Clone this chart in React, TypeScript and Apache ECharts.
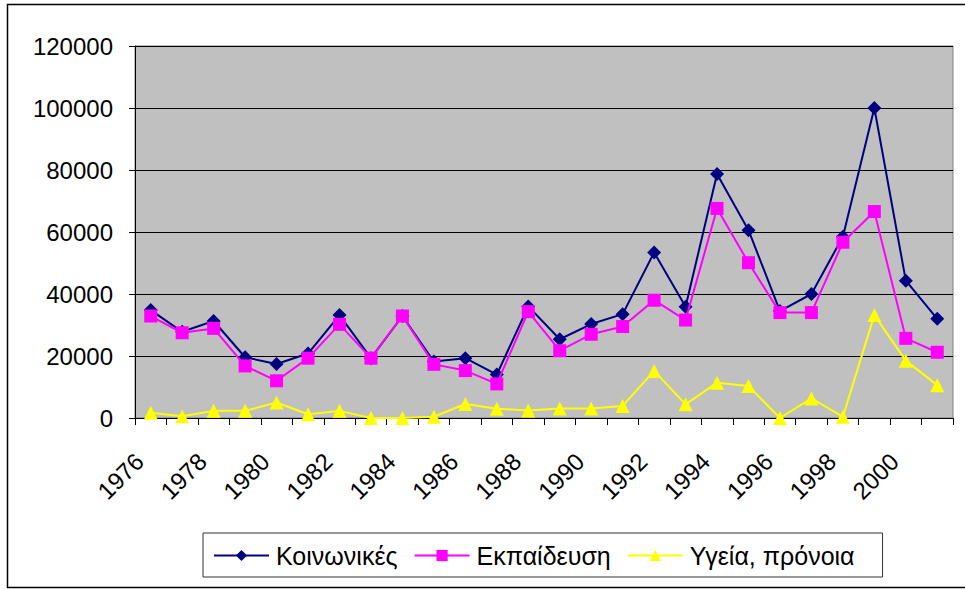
import React, { useEffect, useRef } from "react";
import * as echarts from "echarts";

const years = ["1976","1977","1978","1979","1980","1981","1982","1983","1984","1985","1986","1987","1988","1989","1990","1991","1992","1993","1994","1995","1996","1997","1998","1999","2000","2001"];
const social = [34800,27800,31300,19600,17400,20800,33200,19300,32900,18200,19300,14000,36000,25400,30300,33500,53400,35900,78700,60600,34500,40000,58500,100000,44300,32000];
const education = [32900,27500,28900,16800,12000,19300,30200,19300,32900,17300,15300,11000,34300,21700,27000,29500,38000,31600,67600,50100,34000,34000,56700,66600,25700,21200];
const health = [1700,600,2300,2300,5000,1200,2300,0,0,400,4500,3000,2400,3100,3100,3900,15200,4400,11400,10300,0,6300,400,33200,18500,10600];
const seriesNames = ["Κοινωνικές", "Εκπαίδευση", "Υγεία, πρόνοια"];

const FONT = "'Liberation Sans', Arial, sans-serif";

export default function App() {
  const ref = useRef<HTMLDivElement>(null);
  useEffect(() => {
    const chart = echarts.init(ref.current!, null, { renderer: "svg" });
    chart.setOption({
      animation: false,
      backgroundColor: "#ffffff",
      textStyle: { fontFamily: FONT },
      grid: {
        left: 135, top: 46, right: 12, bottom: 171,
        show: true, backgroundColor: "#c0c0c0", borderColor: "#808080", borderWidth: 1,
      },
      xAxis: {
        type: "category",
        data: years,
        boundaryGap: true,
        axisLine: { lineStyle: { color: "#000", width: 1 } },
        axisTick: { show: true, interval: 0, length: 7, lineStyle: { color: "#000" } },
        axisLabel: {
          interval: 1, rotate: 45, fontSize: 24, color: "#000", fontFamily: FONT,
          margin: 28, padding: [0, 16, 0, 0],
        },
        splitLine: { show: false },
      },
      yAxis: {
        type: "value",
        min: 0, max: 120000, interval: 20000,
        axisLine: { show: true, lineStyle: { color: "#000", width: 1 } },
        axisTick: { show: true, length: 6, lineStyle: { color: "#000" } },
        axisLabel: {
          fontSize: 24, color: "#000", margin: 22, fontFamily: FONT,
          formatter: (v: number) => String(v),
        },
        splitLine: { lineStyle: { color: "#000", width: 1 } },
      },
      legend: {
        left: 203, top: 533,
        padding: [10, 28, 9, 10],
        borderColor: "#333", borderWidth: 1,
        itemWidth: 55, itemHeight: 14, itemGap: 16,
        textStyle: { fontSize: 25, color: "#000", fontFamily: FONT, padding: [0, 0, 0, 2] },
        data: seriesNames,
      },
      graphic: [
        {
          type: "rect",
          shape: { x: 7.5, y: 4.5, width: 980, height: 583 },
          style: { fill: "none", stroke: "#000", lineWidth: 1.5 },
          silent: true,
          z: 100,
        },
      ],
      series: [
        {
          name: seriesNames[0], type: "line", data: social,
          symbol: "diamond", symbolSize: 14,
          itemStyle: { color: "#000080" },
          lineStyle: { color: "#000080", width: 2 },
          z: 2,
        },
        {
          name: seriesNames[1], type: "line", data: education,
          symbol: "rect", symbolSize: 13,
          itemStyle: { color: "#ff00ff" },
          lineStyle: { color: "#ff00ff", width: 2 },
          z: 3,
        },
        {
          name: seriesNames[2], type: "line", data: health,
          symbol: "triangle", symbolSize: 14,
          itemStyle: { color: "#ffff00" },
          lineStyle: { color: "#ffff00", width: 2 },
          z: 4,
        },
      ],
    });
    return () => chart.dispose();
  }, []);
  return (
    <div
      ref={ref}
      style={{ position: "fixed", left: 0, top: 0, width: 965, height: 589 }}
    />
  );
}
